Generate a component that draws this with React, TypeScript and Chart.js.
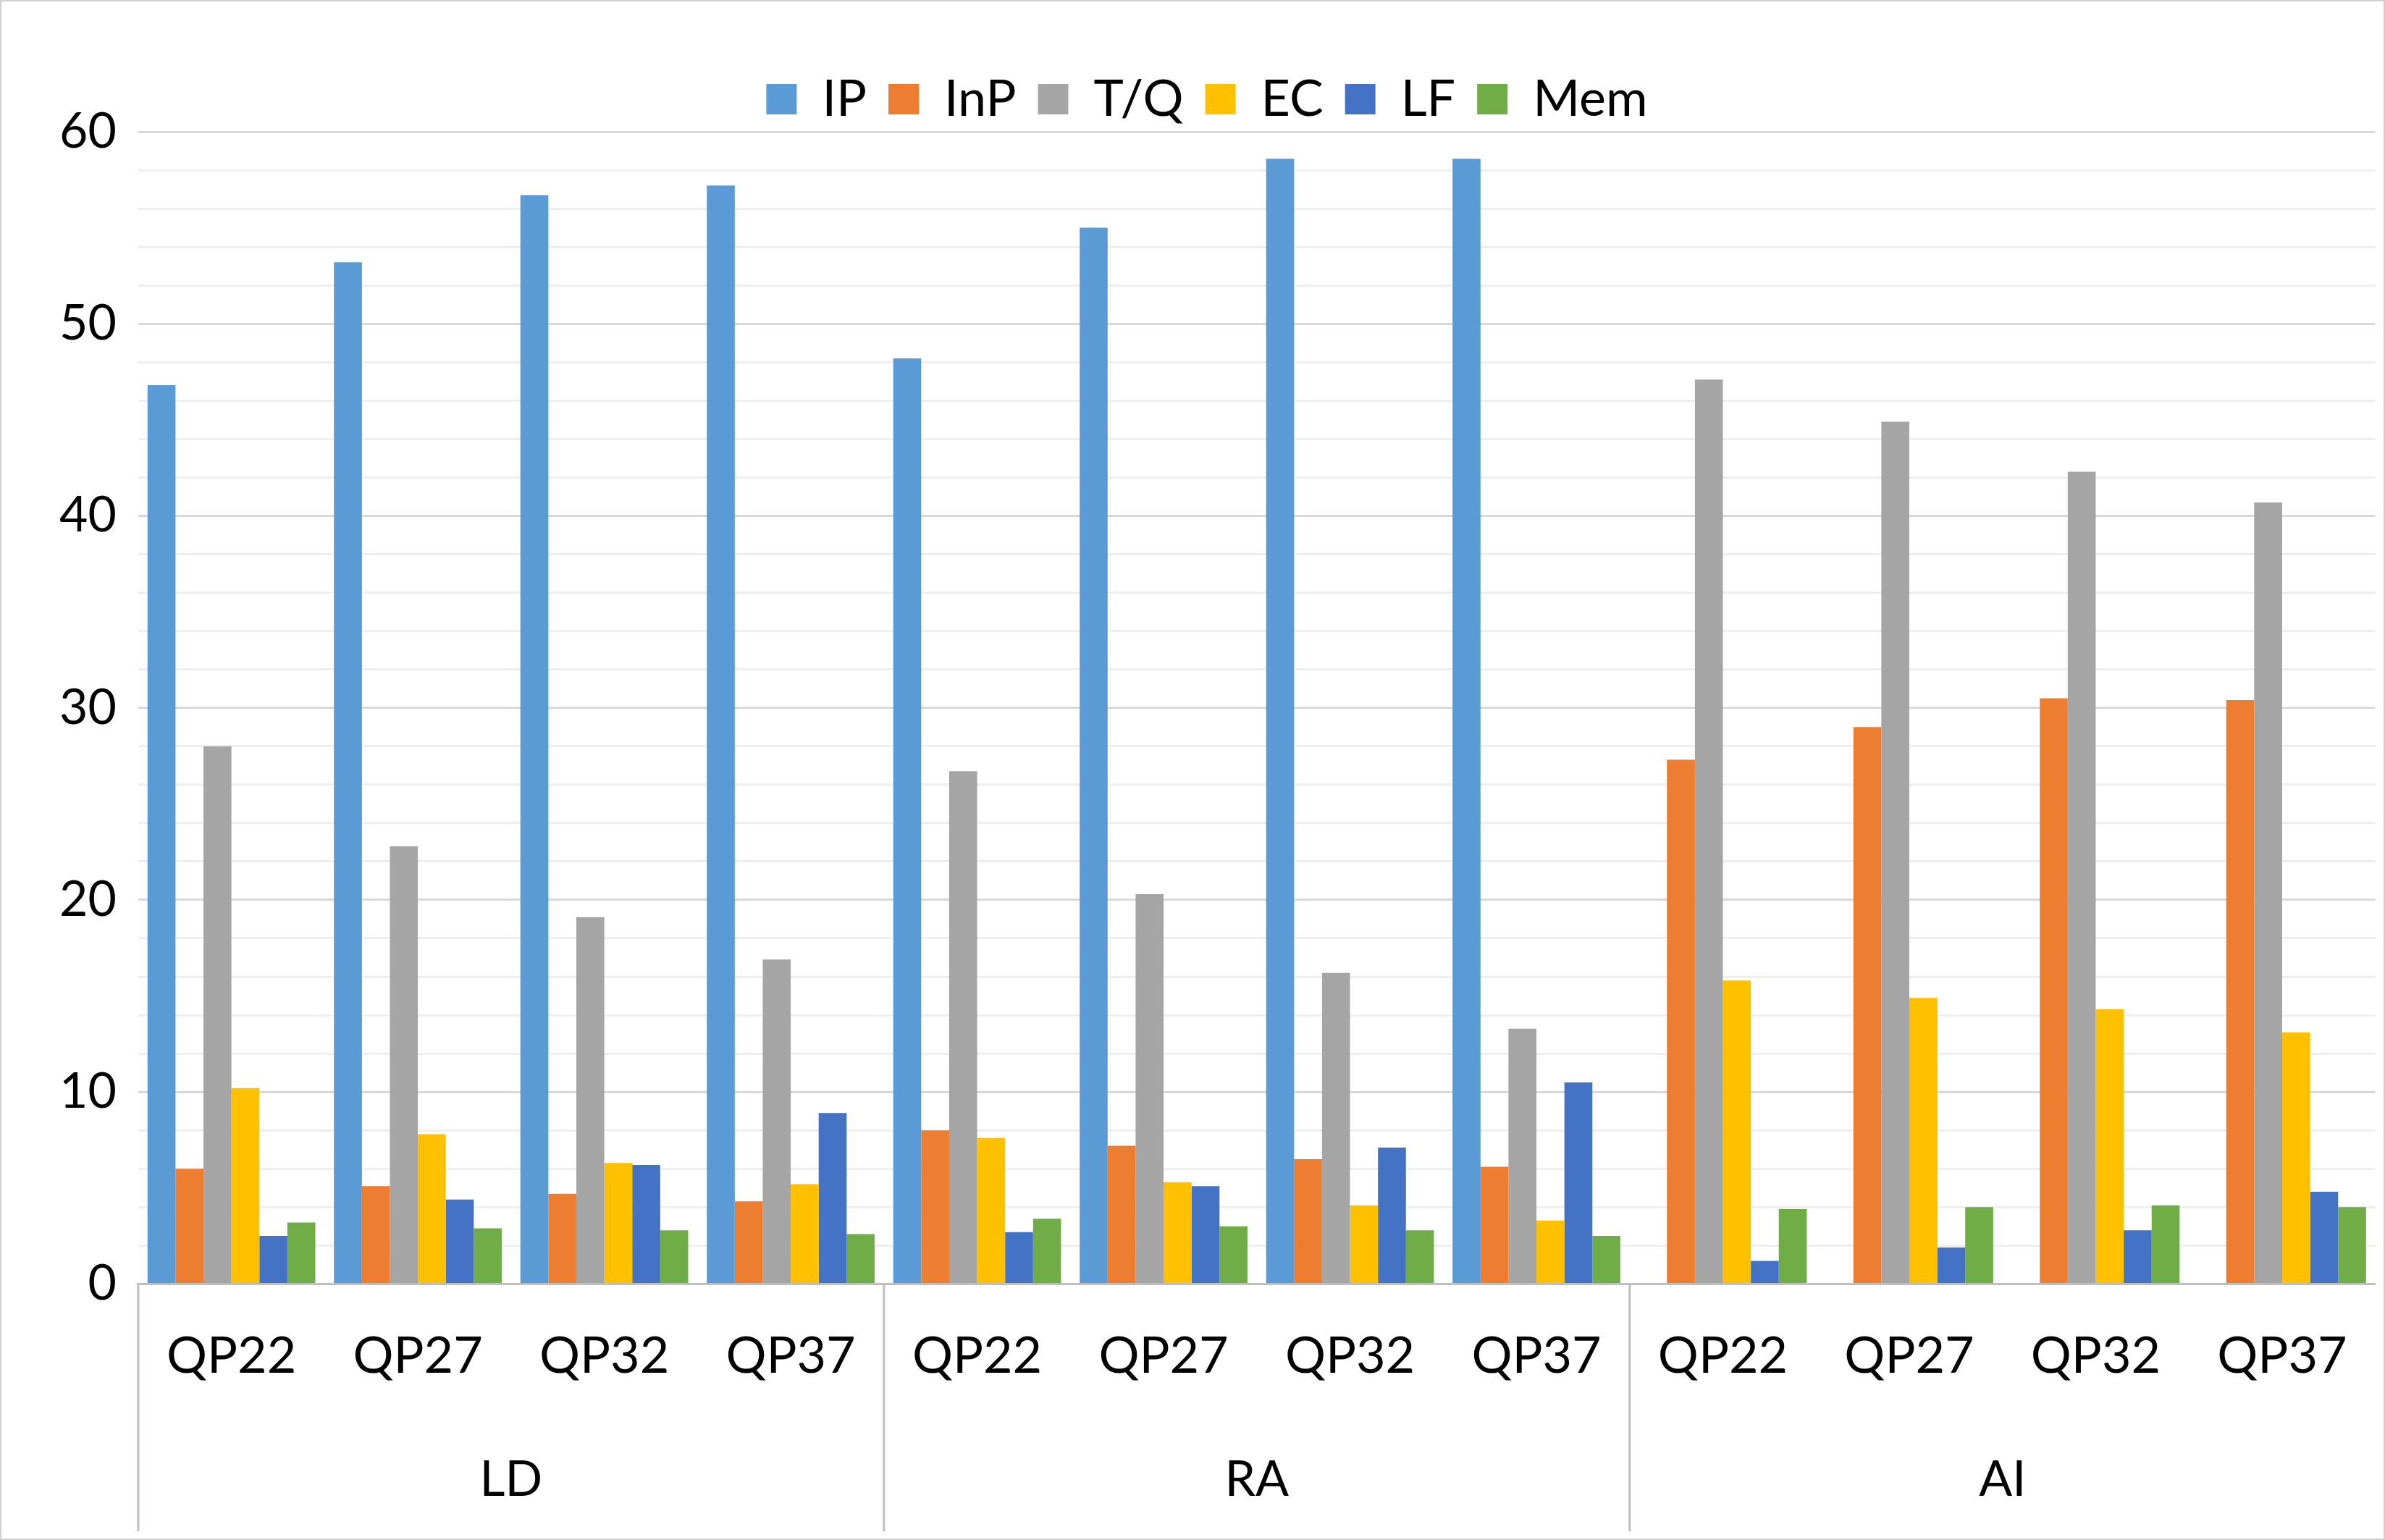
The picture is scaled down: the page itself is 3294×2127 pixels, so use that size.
import { useEffect, useRef } from 'react'
import Chart from 'chart.js/auto'

const GROUPS = ['LD', 'RA', 'AI']
const QPS = ['QP22', 'QP27', 'QP32', 'QP37']
const LABELS = GROUPS.flatMap(() => QPS)

const SERIES = ['IP', 'InP', 'T/Q', 'EC', 'LF', 'Mem']
const COLORS = ['#5b9bd5', '#ed7d31', '#a5a5a5', '#ffc000', '#4472c4', '#70ad47']

const IP = [46.8, 53.2, 56.7, 57.2, 48.2, 55.0, 58.6, 58.6, 0, 0, 0, 0]
const INP = [6.0, 5.1, 4.7, 4.3, 8.0, 7.2, 6.5, 6.1, 27.3, 29.0, 30.5, 30.4]
const TQ = [28.0, 22.8, 19.1, 16.9, 26.7, 20.3, 16.2, 13.3, 47.1, 44.9, 42.3, 40.7]
const EC = [10.2, 7.8, 6.3, 5.2, 7.6, 5.3, 4.1, 3.3, 15.8, 14.9, 14.3, 13.1]
const LF = [2.5, 4.4, 6.2, 8.9, 2.7, 5.1, 7.1, 10.5, 1.2, 1.9, 2.8, 4.8]
const MEM = [3.2, 2.9, 2.8, 2.6, 3.4, 3.0, 2.8, 2.5, 3.9, 4.0, 4.1, 4.0]
const VALUES = [IP, INP, TQ, EC, LF, MEM]

const FONT = 'Lato, "Open Sans", sans-serif'

const separators = {
  id: 'separators',
  afterDraw(chart: Chart) {
    const x = chart.scales.x
    const x2 = chart.scales.x2
    const ctx = chart.ctx
    const xs = [x.left]
    for (let i = QPS.length; i < LABELS.length; i += QPS.length) {
      xs.push((x.getPixelForTick(i - 1) + x.getPixelForTick(i)) / 2)
    }
    ctx.save()
    ctx.strokeStyle = '#bfbfbf'
    ctx.lineWidth = 3
    xs.forEach(px => {
      ctx.beginPath()
      ctx.moveTo(px, x.top)
      ctx.lineTo(px, x2.bottom)
      ctx.stroke()
    })
    ctx.restore()
  },
}

export default function App() {
  const ref = useRef<HTMLCanvasElement>(null)

  useEffect(() => {
    if (!ref.current) return
    const chart = new Chart(ref.current, {
      type: 'bar',
      data: {
        labels: LABELS,
        datasets: SERIES.map((s, i) => ({
          label: s,
          data: VALUES[i],
          backgroundColor: COLORS[i],
          categoryPercentage: 0.9,
          barPercentage: 1,
        })),
      },
      options: {
        animation: false,
        responsive: false,
        layout: { padding: { top: 70, right: 10, bottom: 10, left: 50 } },
        plugins: {
          tooltip: { enabled: false },
          legend: {
            position: 'top',
            labels: {
              font: { family: FONT, size: 70 },
              color: '#000',
              boxWidth: 42,
              boxHeight: 42,
              padding: 30,
            },
          },
        },
        scales: {
          x: {
            grid: { display: false },
            border: { display: true, color: '#bfbfbf', width: 3 },
            ticks: { font: { family: FONT, size: 70 }, color: '#000', padding: 50 },
          },
          x2: {
            type: 'category',
            position: 'bottom',
            labels: GROUPS,
            grid: { display: false },
            border: { display: false },
            ticks: { font: { family: FONT, size: 68 }, color: '#000', padding: 30 },
          },
          y: {
            min: 0,
            max: 60,
            grid: {
              color: c => (c.tick.value % 10 === 0 ? '#d9d9d9' : '#efefef'),
              lineWidth: 3,
              drawTicks: false,
            },
            border: { display: false },
            ticks: {
              stepSize: 2,
              autoSkip: false,
              padding: 30,
              font: { family: FONT, size: 68 },
              color: '#000',
              callback: v => (Number(v) % 10 === 0 ? String(v) : ''),
            },
          },
        },
      },
      plugins: [separators],
    })
    return () => chart.destroy()
  }, [])

  return (
    <div style={{ position: 'absolute', left: 0, top: 0, width: 3290, height: 2123, border: '2px solid #d0d0d0', background: '#fff' }}>
      <canvas ref={ref} width={3290} height={2123} />
    </div>
  )
}
